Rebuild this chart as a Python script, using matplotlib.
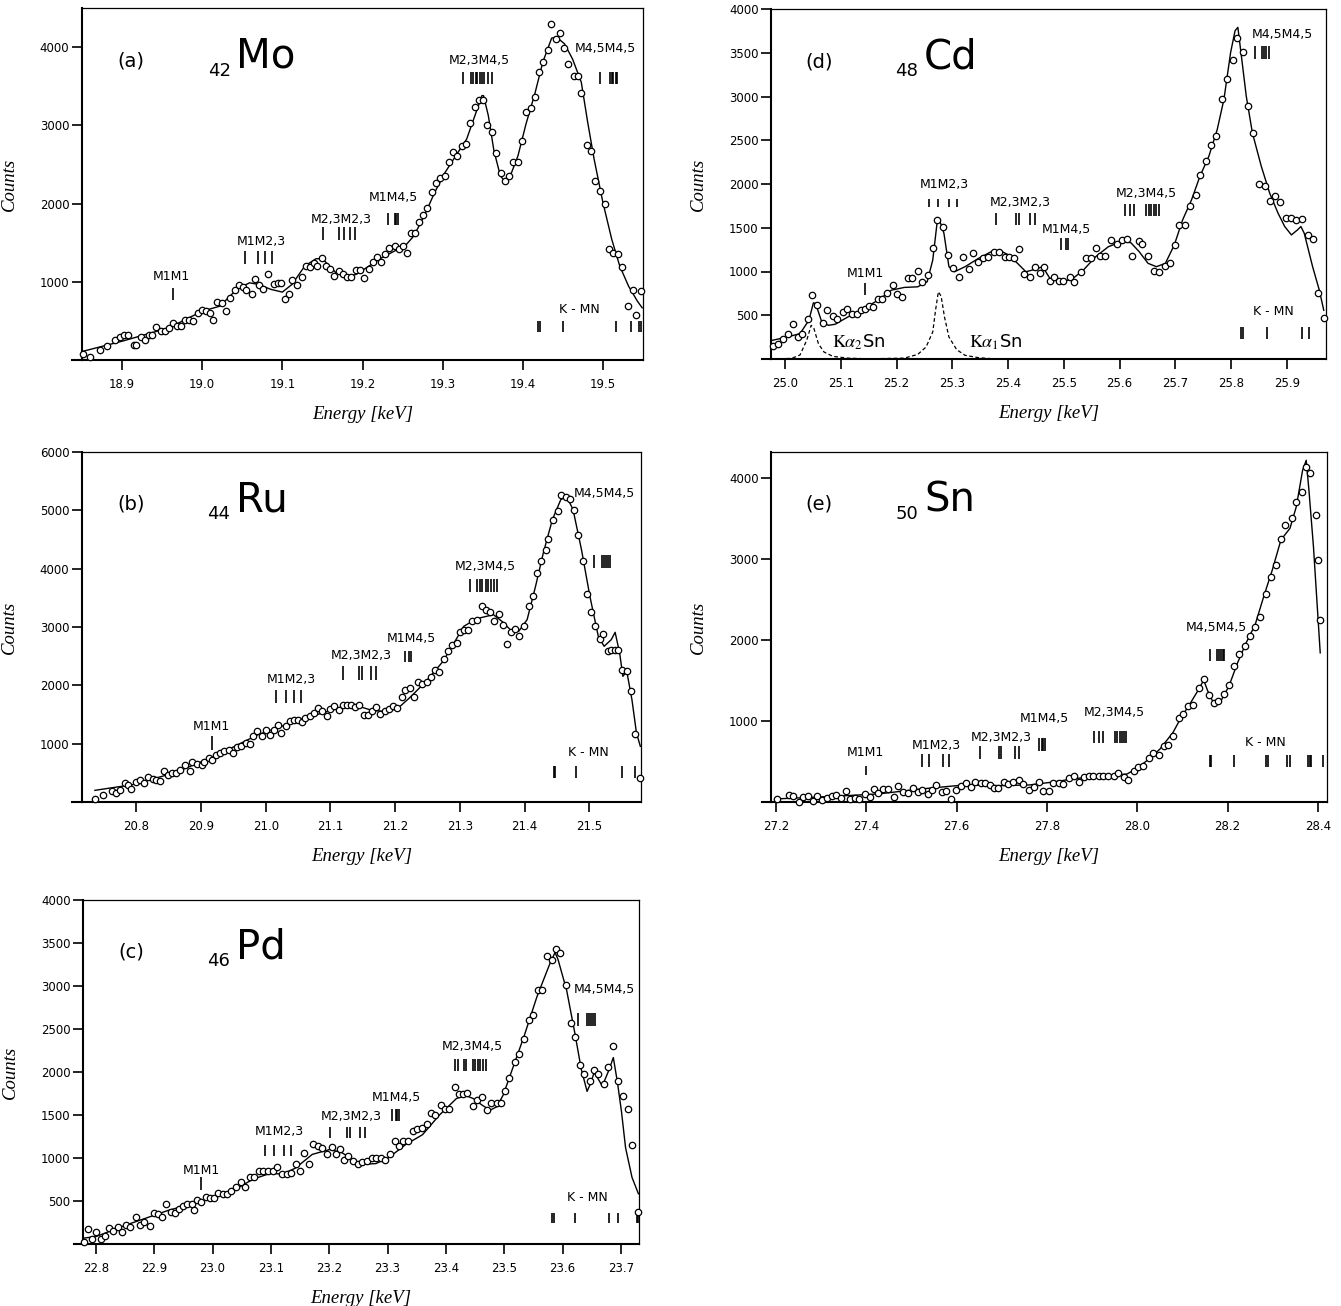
import matplotlib
matplotlib.use('Agg')
import matplotlib.pyplot as plt

plt.rcParams['mathtext.fontset'] = 'stix'
plt.rcParams['font.family'] = ['DejaVu Sans']

# ---------------- data ----------------
# (a) 42Mo
a_E = [18.851, 18.860, 18.872, 18.881, 18.891, 18.897, 18.902, 18.907, 18.915, 18.918,
       18.923, 18.928, 18.934, 18.937, 18.942, 18.949, 18.954, 18.958, 18.964, 18.969,
       18.974, 18.979, 18.984, 18.989, 18.995, 19.000, 19.005, 19.010, 19.014, 19.019,
       19.025, 19.030, 19.035, 19.041, 19.046, 19.051, 19.055, 19.062, 19.066, 19.071,
       19.076, 19.082, 19.089, 19.094, 19.098, 19.103, 19.108, 19.112, 19.118, 19.124,
       19.129, 19.134, 19.139, 19.143, 19.150, 19.155, 19.160, 19.165, 19.171, 19.176,
       19.181, 19.186, 19.192, 19.197, 19.202, 19.208, 19.213, 19.218, 19.223, 19.228,
       19.233, 19.240, 19.245, 19.250, 19.255, 19.260, 19.265, 19.270, 19.276, 19.281,
       19.287, 19.292, 19.297, 19.303, 19.308, 19.313, 19.318, 19.324, 19.329, 19.334,
       19.340, 19.345, 19.350, 19.355, 19.361, 19.366, 19.373, 19.378, 19.383, 19.388,
       19.394, 19.399, 19.404, 19.410, 19.415, 19.420, 19.425, 19.431, 19.435, 19.441,
       19.447, 19.452, 19.457, 19.464, 19.469, 19.473, 19.480, 19.485, 19.490, 19.496,
       19.503, 19.508, 19.512, 19.519, 19.524, 19.531, 19.537, 19.541, 19.547]
a_counts = [81, 34, 124, 184, 261, 295, 325, 325, 197, 197,
            291, 261, 325, 325, 423, 368, 368, 410, 474, 440,
            432, 509, 509, 496, 603, 637, 624, 603, 509, 739,
            731, 624, 795, 893, 953, 936, 889, 838, 1038, 953,
            910, 1094, 966, 979, 979, 782, 846, 1017, 953, 1064,
            1201, 1188, 1235, 1201, 1308, 1201, 1158, 1073, 1137, 1094,
            1060, 1060, 1145, 1150, 1051, 1167, 1252, 1320, 1252, 1350,
            1436, 1457, 1423, 1457, 1363, 1628, 1628, 1765, 1850, 1949,
            2150, 2261, 2333, 2355, 2534, 2654, 2611, 2739, 2761, 3030,
            3231, 3329, 3329, 3004, 2910, 2645, 2397, 2291, 2355, 2526,
            2534, 2803, 3167, 3218, 3359, 3688, 3816, 3957, 4299, 4107,
            4184, 3987, 3786, 3628, 3628, 3415, 2748, 2675, 2291, 2162,
            1991, 1423, 1363, 1350, 1192, 688, 893, 581, 880]
a_fitE = [18.851, 18.900, 18.958, 19.000, 19.022, 19.043, 19.059, 19.070, 19.086, 19.100,
          19.112, 19.128, 19.142, 19.150, 19.166, 19.179, 19.192, 19.208, 19.224, 19.240,
          19.253, 19.264, 19.277, 19.290, 19.303, 19.317, 19.330, 19.341, 19.349, 19.351,
          19.357, 19.364, 19.372, 19.378, 19.386, 19.394, 19.404, 19.415, 19.425, 19.436,
          19.442, 19.452, 19.462, 19.473, 19.481, 19.489, 19.500, 19.511, 19.521, 19.532,
          19.543, 19.549]
a_fit = [111, 240, 410, 624, 688, 902, 987, 966, 902, 868,
         966, 1201, 1295, 1295, 1124, 1060, 1094, 1201, 1308, 1393,
         1457, 1585, 1842, 2141, 2397, 2620, 2825, 3145, 3380, 3380,
         3124, 2675, 2355, 2278, 2397, 2611, 3017, 3402, 3808, 4115,
         4128, 4043, 3850, 3551, 3038, 2568, 2013, 1543, 1201, 944,
         752, 667]
a_marks = {
    'M1M1': [18.964],
    'M1M2,3': [19.054, 19.070, 19.078, 19.087],
    'M2,3M2,3': [19.151, 19.171, 19.177, 19.184, 19.191],
    'M1M4,5': [19.232, 19.240, 19.242, 19.244],
    'M2,3M4,5': [19.325, 19.335, 19.338, 19.341, 19.343, 19.346, 19.349, 19.351, 19.356, 19.361],
    'M4,5M4,5': [19.496, 19.509, 19.511, 19.512, 19.516, 19.518],
    'K - MN': [19.419, 19.422, 19.450, 19.516, 19.535, 19.545, 19.547],
}

# (b) 44Ru
b_E = [20.736, 20.749, 20.762, 20.769, 20.774, 20.782, 20.787, 20.792, 20.799, 20.805,
       20.812, 20.818, 20.825, 20.831, 20.836, 20.842, 20.849, 20.855, 20.862, 20.868,
       20.875, 20.883, 20.886, 20.894, 20.901, 20.905, 20.912, 20.917, 20.923, 20.930,
       20.936, 20.943, 20.949, 20.956, 20.962, 20.969, 20.975, 20.981, 20.987, 20.994,
       21.000, 21.006, 21.013, 21.019, 21.024, 21.031, 21.037, 21.044, 21.050, 21.056,
       21.061, 21.068, 21.074, 21.081, 21.087, 21.094, 21.100, 21.106, 21.113, 21.119,
       21.126, 21.132, 21.138, 21.144, 21.152, 21.158, 21.165, 21.171, 21.177, 21.184,
       21.191, 21.197, 21.203, 21.210, 21.216, 21.223, 21.229, 21.236, 21.242, 21.249,
       21.255, 21.262, 21.268, 21.275, 21.282, 21.288, 21.295, 21.301, 21.306, 21.313,
       21.319, 21.326, 21.334, 21.340, 21.347, 21.353, 21.360, 21.366, 21.373, 21.379,
       21.386, 21.392, 21.399, 21.407, 21.413, 21.420, 21.426, 21.433, 21.437, 21.444,
       21.451, 21.457, 21.464, 21.470, 21.477, 21.483, 21.490, 21.496, 21.503, 21.509,
       21.516, 21.522, 21.529, 21.534, 21.540, 21.545, 21.550, 21.558, 21.565, 21.571,
       21.579]
b_counts = [51, 126, 183, 154, 211, 326, 297, 223, 337, 371,
            326, 429, 394, 383, 354, 526, 469, 497, 491, 554,
            640, 537, 680, 657, 640, 680, 754, 714, 811, 840,
            880, 897, 840, 943, 954, 1011, 1000, 1126, 1211, 1126,
            1240, 1154, 1240, 1326, 1183, 1309, 1383, 1411, 1400, 1366,
            1440, 1469, 1526, 1611, 1554, 1480, 1594, 1651, 1571, 1669,
            1669, 1657, 1629, 1657, 1497, 1497, 1554, 1623, 1514, 1554,
            1594, 1640, 1611, 1800, 1914, 1954, 1800, 2051, 2029, 2051,
            2143, 2269, 2223, 2451, 2583, 2697, 2726, 2909, 2943, 2954,
            3097, 3126, 3354, 3297, 3251, 3097, 3229, 3040, 2714, 2909,
            2966, 2840, 3011, 3354, 3526, 3926, 4126, 4326, 4509, 4840,
            4983, 5269, 5229, 5200, 5000, 4583, 4126, 3571, 3251, 3011,
            2794, 2880, 2583, 2600, 2600, 2600, 2269, 2240, 1897, 1171,
            411]
b_fitE = [20.736, 20.794, 20.858, 20.923, 20.988, 21.053, 21.105, 21.124, 21.144, 21.164,
          21.183, 21.203, 21.222, 21.248, 21.274, 21.294, 21.306, 21.326, 21.352, 21.365,
          21.378, 21.391, 21.404, 21.417, 21.429, 21.443, 21.456, 21.465, 21.475, 21.488,
          21.501, 21.514, 21.523, 21.534, 21.540, 21.547, 21.552, 21.558, 21.566, 21.573,
          21.579]
b_fit = [200, 297, 497, 794, 1154, 1411, 1583, 1651, 1640, 1571,
         1554, 1594, 1783, 2069, 2411, 2783, 3011, 3143, 3211, 3097,
         2954, 2926, 3126, 3697, 4269, 4840, 5183, 5240, 5011, 4326,
         3526, 2840, 2669, 2783, 2909, 2554, 2154, 2240, 1754, 1183,
         954]
b_marks = {
    'M1M1': [20.917],
    'M1M2,3': [21.016, 21.031, 21.044, 21.055],
    'M2,3M2,3': [21.119, 21.144, 21.148, 21.162, 21.170],
    'M1M4,5': [21.216, 21.222, 21.225],
    'M2,3M4,5': [21.316, 21.326, 21.331, 21.335, 21.340, 21.344, 21.348, 21.353, 21.358],
    'M4,5M4,5': [21.508, 21.520, 21.523, 21.526, 21.529, 21.532],
    'K - MN': [21.445, 21.447, 21.480, 21.550, 21.571],
}

# (c) 46Pd
c_E = [22.780, 22.787, 22.794, 22.801, 22.809, 22.816, 22.823, 22.830, 22.838, 22.845,
       22.852, 22.859, 22.868, 22.875, 22.882, 22.892, 22.899, 22.906, 22.914, 22.921,
       22.928, 22.936, 22.943, 22.950, 22.957, 22.965, 22.968, 22.974, 22.981, 22.989,
       22.996, 23.003, 23.010, 23.018, 23.025, 23.032, 23.041, 23.048, 23.055, 23.064,
       23.071, 23.079, 23.086, 23.095, 23.103, 23.110, 23.119, 23.127, 23.135, 23.143,
       23.150, 23.157, 23.166, 23.173, 23.181, 23.188, 23.197, 23.204, 23.212, 23.219,
       23.226, 23.233, 23.240, 23.250, 23.257, 23.264, 23.273, 23.280, 23.288, 23.295,
       23.304, 23.313, 23.320, 23.327, 23.335, 23.344, 23.351, 23.359, 23.367, 23.375,
       23.382, 23.391, 23.398, 23.405, 23.415, 23.422, 23.429, 23.436, 23.446, 23.453,
       23.462, 23.470, 23.478, 23.487, 23.494, 23.502, 23.509, 23.518, 23.526, 23.534,
       23.542, 23.549, 23.558, 23.565, 23.574, 23.582, 23.589, 23.596, 23.606, 23.614,
       23.621, 23.630, 23.637, 23.647, 23.654, 23.661, 23.671, 23.678, 23.687, 23.695,
       23.703, 23.712, 23.719, 23.730]
c_counts = [19, 172, 57, 145, 57, 95, 191, 156, 195, 134,
            221, 202, 309, 221, 260, 210, 355, 347, 309, 469,
            374, 355, 412, 439, 462, 462, 393, 515, 489, 546,
            538, 538, 595, 584, 584, 615, 660, 718, 668, 775,
            775, 844, 844, 851, 851, 897, 813, 813, 821, 927,
            844, 1053, 935, 1164, 1137, 1118, 1050, 1126, 1050, 1107,
            973, 1023, 966, 927, 958, 966, 1004, 996, 1004, 973,
            1050, 1195, 1137, 1195, 1195, 1317, 1340, 1347, 1393, 1519,
            1500, 1622, 1569, 1569, 1824, 1748, 1748, 1760, 1607, 1672,
            1710, 1557, 1645, 1634, 1634, 1775, 1927, 2111, 2206, 2378,
            2599, 2664, 2958, 2958, 3351, 3302, 3427, 3378, 3015, 2569,
            2408, 2080, 1977, 1901, 2027, 1977, 1863, 2054, 2302, 1901,
            1721, 1569, 1156, 374]
c_fitE = [22.780, 22.801, 22.852, 22.925, 22.983, 23.026, 23.070, 23.099, 23.120, 23.142,
          23.171, 23.201, 23.222, 23.244, 23.259, 23.280, 23.302, 23.331, 23.360, 23.389,
          23.418, 23.433, 23.447, 23.462, 23.476, 23.487, 23.498, 23.512, 23.534, 23.556,
          23.578, 23.587, 23.592, 23.607, 23.621, 23.632, 23.642, 23.649, 23.654, 23.661,
          23.668, 23.679, 23.687, 23.694, 23.701, 23.708, 23.719, 23.730]
c_fit = [69, 88, 221, 393, 500, 584, 756, 821, 813, 882,
         1042, 1099, 1061, 966, 927, 935, 1004, 1156, 1271, 1500,
         1691, 1729, 1691, 1615, 1557, 1595, 1729, 1996, 2416, 2874,
         3256, 3389, 3313, 2950, 2454, 2034, 1775, 1882, 1996, 1920,
         1836, 2015, 2168, 1882, 1538, 1118, 775, 584]
c_marks = {
    'M1M1': [22.981],
    'M1M2,3': [23.090, 23.105, 23.122, 23.134],
    'M2,3M2,3': [23.201, 23.231, 23.235, 23.253, 23.262],
    'M1M4,5': [23.308, 23.315, 23.317, 23.319],
    'M2,3M4,5': [23.415, 23.420, 23.431, 23.434, 23.446, 23.450, 23.455, 23.459, 23.464, 23.468],
    'M4,5M4,5': [23.627, 23.642, 23.645, 23.649, 23.652, 23.656],
    'K - MN': [23.582, 23.585, 23.621, 23.680, 23.695, 23.727, 23.730],
}

# (d) 48Cd
d_E = [24.979, 24.987, 24.996, 25.006, 25.014, 25.023, 25.031, 25.041, 25.049, 25.058,
       25.068, 25.076, 25.086, 25.094, 25.104, 25.111, 25.121, 25.129, 25.136, 25.144,
       25.150, 25.158, 25.166, 25.174, 25.183, 25.193, 25.201, 25.210, 25.221, 25.228,
       25.238, 25.246, 25.256, 25.265, 25.273, 25.283, 25.292, 25.302, 25.312, 25.320,
       25.330, 25.337, 25.347, 25.355, 25.364, 25.374, 25.384, 25.394, 25.401, 25.411,
       25.419, 25.429, 25.439, 25.448, 25.457, 25.465, 25.475, 25.483, 25.491, 25.499,
       25.511, 25.518, 25.530, 25.540, 25.549, 25.557, 25.565, 25.574, 25.585, 25.595,
       25.604, 25.613, 25.623, 25.634, 25.641, 25.651, 25.661, 25.671, 25.681, 25.690,
       25.700, 25.707, 25.717, 25.727, 25.737, 25.744, 25.754, 25.764, 25.772, 25.783,
       25.793, 25.803, 25.811, 25.821, 25.830, 25.840, 25.850, 25.860, 25.869, 25.878,
       25.888, 25.899, 25.908, 25.917, 25.927, 25.937, 25.946, 25.956, 25.966]
d_counts = [144, 175, 232, 290, 404, 251, 290, 462, 730, 615,
            412, 557, 489, 462, 538, 577, 519, 519, 557, 577,
            603, 596, 691, 691, 749, 844, 741, 710, 921, 921,
            1009, 883, 959, 1265, 1583, 1514, 1189, 1043, 940, 1162,
            1024, 1215, 1112, 1150, 1162, 1227, 1227, 1169, 1162, 1150,
            1254, 971, 932, 1047, 978, 1047, 890, 932, 894, 894,
            932, 875, 997, 1150, 1150, 1265, 1177, 1177, 1361, 1315,
            1361, 1368, 1177, 1353, 1311, 1177, 1009, 997, 1062, 1101,
            1303, 1533, 1533, 1743, 1877, 2107, 2260, 2451, 2554, 2975,
            3197, 3419, 3664, 3503, 2891, 2585, 2003, 1980, 1800, 1858,
            1789, 1609, 1609, 1590, 1598, 1418, 1368, 749, 473]
d_fitE = [24.977, 25.004, 25.027, 25.043, 25.051, 25.055, 25.066, 25.078, 25.090, 25.113,
          25.136, 25.167, 25.191, 25.214, 25.238, 25.255, 25.265, 25.273, 25.277, 25.285,
          25.294, 25.304, 25.323, 25.347, 25.370, 25.386, 25.401, 25.417, 25.432, 25.448,
          25.462, 25.475, 25.495, 25.514, 25.534, 25.557, 25.580, 25.604, 25.620, 25.635,
          25.651, 25.666, 25.682, 25.698, 25.713, 25.729, 25.744, 25.760, 25.775, 25.787,
          25.799, 25.807, 25.812, 25.819, 25.827, 25.838, 25.854, 25.869, 25.884, 25.896,
          25.908, 25.919, 25.925, 25.931, 25.946, 25.958, 25.966]
d_fit = [213, 251, 290, 443, 642, 634, 423, 385, 397, 481,
         557, 672, 787, 818, 825, 883, 1131, 1571, 1590, 1438,
         1055, 997, 1055, 1150, 1227, 1238, 1189, 1093, 997, 1024,
         1055, 921, 883, 910, 1009, 1169, 1284, 1341, 1330, 1227,
         1093, 1055, 1093, 1303, 1590, 1820, 2088, 2317, 2623, 2967,
         3503, 3752, 3790, 3426, 3006, 2585, 2202, 1896, 1667, 1514,
         1418, 1476, 1514, 1437, 1055, 787, 557]
# Sn K-alpha contamination lines (dashed)
d_ka2E = [24.980, 25.012, 25.027, 25.039, 25.047, 25.052, 25.060, 25.070, 25.086, 25.113, 25.150]
d_ka2 = [0, 7, 46, 213, 385, 347, 175, 80, 30, 10, 2]
d_ka1E = [25.150, 25.214, 25.238, 25.253, 25.265, 25.270, 25.275, 25.280, 25.286, 25.294,
          25.308, 25.323, 25.347, 25.370, 25.400]
d_ka1 = [2, 10, 52, 137, 309, 557, 768, 718, 481, 251,
         106, 42, 15, 4, 0]
d_marks = {
    'M1M1': [25.143],
    'M1M2,3': [25.259, 25.275, 25.294, 25.308],
    'M2,3M2,3': [25.378, 25.415, 25.419, 25.440, 25.448],
    'M1M4,5': [25.495, 25.503, 25.507],
    'M2,3M4,5': [25.610, 25.618, 25.626, 25.647, 25.652, 25.656, 25.661, 25.666, 25.670],
    'M4,5M4,5': [25.842, 25.855, 25.859, 25.863, 25.867],
    'K - MN': [25.818, 25.821, 25.864, 25.927, 25.939],
}

# (e) 50Sn
e_E = [27.203, 27.229, 27.238, 27.251, 27.260, 27.270, 27.282, 27.291, 27.303, 27.312,
       27.323, 27.334, 27.344, 27.354, 27.365, 27.375, 27.384, 27.397, 27.408, 27.418,
       27.427, 27.437, 27.447, 27.461, 27.471, 27.481, 27.493, 27.504, 27.514, 27.524,
       27.536, 27.545, 27.555, 27.567, 27.576, 27.587, 27.598, 27.610, 27.620, 27.632,
       27.641, 27.653, 27.662, 27.673, 27.683, 27.692, 27.704, 27.714, 27.725, 27.737,
       27.747, 27.760, 27.771, 27.783, 27.792, 27.805, 27.814, 27.826, 27.836, 27.848,
       27.859, 27.872, 27.881, 27.893, 27.903, 27.915, 27.925, 27.936, 27.949, 27.958,
       27.971, 27.980, 27.992, 28.001, 28.013, 28.025, 28.035, 28.047, 28.059, 28.069,
       28.080, 28.092, 28.102, 28.112, 28.124, 28.136, 28.147, 28.158, 28.169, 28.179,
       28.192, 28.204, 28.215, 28.226, 28.239, 28.250, 28.261, 28.272, 28.284, 28.296,
       28.308, 28.319, 28.328, 28.342, 28.352, 28.364, 28.373, 28.383, 28.395, 28.400,
       28.405]
e_counts = [38, 87, 79, 5, 59, 79, 18, 71, 30, 46,
            79, 87, 46, 140, 38, 46, 38, 99, 59, 161,
            112, 161, 161, 67, 194, 128, 112, 169, 128, 153,
            99, 153, 210, 120, 140, 38, 153, 202, 235, 181,
            243, 235, 235, 210, 169, 169, 251, 222, 243, 276,
            222, 153, 181, 251, 140, 140, 235, 235, 222, 292,
            317, 243, 304, 325, 325, 317, 317, 325, 325, 357,
            304, 276, 386, 427, 439, 537, 603, 578, 693, 701,
            816, 1041, 1082, 1184, 1192, 1409, 1520, 1315, 1225, 1246,
            1327, 1438, 1675, 1819, 1921, 2044, 2158, 2277, 2568, 2772,
            2924, 3239, 3415, 3497, 3702, 3824, 4131, 4058, 3538, 2985,
            2248]
e_fitE = [27.197, 27.234, 27.330, 27.426, 27.522, 27.617, 27.694, 27.761, 27.809, 27.857,
          27.905, 27.953, 27.977, 27.997, 28.021, 28.050, 28.079, 28.097, 28.116, 28.136,
          28.147, 28.156, 28.169, 28.183, 28.203, 28.222, 28.241, 28.261, 28.280, 28.299,
          28.318, 28.338, 28.352, 28.366, 28.374, 28.380, 28.390, 28.405]
e_fit = [38, 46, 71, 99, 161, 210, 202, 210, 243, 284,
         317, 333, 345, 406, 509, 652, 857, 1041, 1205, 1389,
         1503, 1368, 1217, 1225, 1430, 1716, 1962, 2187, 2535, 2862,
         3231, 3374, 3640, 4090, 4213, 3845, 3149, 1839]
e_marks = {
    'M1M1': [27.400],
    'M1M2,3': [27.524, 27.539, 27.569, 27.582],
    'M2,3M2,3': [27.651, 27.694, 27.699, 27.730, 27.739],
    'M1M4,5': [27.783, 27.788, 27.792, 27.796],
    'M2,3M4,5': [27.905, 27.915, 27.925, 27.951, 27.956, 27.961, 27.966, 27.971, 27.975],
    'M4,5M4,5': [28.160, 28.176, 28.181, 28.186, 28.190, 28.193],
    'K - MN': [28.162, 28.164, 28.214, 28.284, 28.289, 28.332, 28.337, 28.378, 28.382, 28.385, 28.411],
}

# ---------------- layout ----------------
# label position (x, y) and tick-bar y-range for each transition group
a_pos = {'M1M1': (18.961, 1073, 773, 923), 'M1M2,3': (19.074, 1521, 1222, 1393),
         'M2,3M2,3': (19.173, 1800, 1530, 1700), 'M1M4,5': (19.238, 2077, 1722, 1885),
         'M2,3M4,5': (19.346, 3829, 3530, 3688), 'M4,5M4,5': (19.503, 3979, 3530, 3688),
         'K - MN': (19.471, 645, 355, 496)}
b_pos = {'M1M1': (20.916, 1297, 897, 1126), 'M1M2,3': (21.040, 2097, 1697, 1914),
         'M2,3M2,3': (21.147, 2509, 2097, 2326), 'M1M4,5': (21.225, 2811, 2394, 2583),
         'M2,3M4,5': (21.339, 4040, 3594, 3823), 'M4,5M4,5': (21.524, 5297, 4011, 4240),
         'K - MN': (21.498, 840, 411, 611)}
c_pos = {'M1M1': (22.981, 859, 630, 775), 'M1M2,3': (23.115, 1309, 1023, 1156),
         'M2,3M2,3': (23.237, 1481, 1233, 1366), 'M1M4,5': (23.315, 1698, 1431, 1569),
         'M2,3M4,5': (23.446, 2294, 2015, 2156), 'M4,5M4,5': (23.671, 2958, 2538, 2683),
         'K - MN': (23.643, 546, 240, 355)}
d_pos = {'M1M1': (25.144, 978, 730, 871), 'M1M2,3': (25.286, 1992, 1736, 1831),
         'M2,3M2,3': (25.421, 1789, 1533, 1667), 'M1M4,5': (25.504, 1475, 1246, 1380),
         'M2,3M4,5': (25.647, 1896, 1636, 1774), 'M4,5M4,5': (25.891, 3713, 3434, 3580),
         'K - MN': (25.875, 538, 232, 366)}
e_pos = {'M1M1': (27.399, 611, 333, 447), 'M1M2,3': (27.555, 701, 427, 591),
         'M2,3M2,3': (27.699, 795, 529, 693), 'M1M4,5': (27.795, 1029, 632, 795),
         'M2,3M4,5': (27.949, 1102, 726, 877), 'M4,5M4,5': (28.174, 2146, 1737, 1888),
         'K - MN': (28.284, 734, 427, 578)}

W, H = 1341, 1306


def rect(l, r, t, b):
    return [l / W, 1 - b / H, (r - l) / W, (b - t) / H]


fig = plt.figure(figsize=(13.41, 13.06), dpi=100)
fig.patch.set_facecolor('white')


def draw(box, E, cnt, fE, fit, marks, pos, xlim, ylim, xt, yt, tag, z, sym):
    ax = fig.add_axes(rect(*box))
    ax.plot(fE, fit, color='k', lw=1.0, zorder=3)
    ax.plot(E, cnt, 'o', mfc='white', mec='k', ms=4.6, mew=0.9, zorder=4, clip_on=False)
    for name, xs in marks.items():
        tx, ty, lo, hi = pos[name]
        ax.vlines(xs, lo, hi, color='k', lw=1.2)
        ax.text(tx, ty, name, ha='center', va='center', fontsize=9)
    ax.set_xlim(*xlim)
    ax.set_ylim(*ylim)
    ax.set_xticks(xt)
    ax.set_xticklabels(['%.1f' % v for v in xt])
    ax.set_yticks(yt)
    ax.tick_params(direction='out', length=7, width=1.2, labelsize=8.5)
    ax.tick_params(axis='x', pad=6)
    ax.tick_params(axis='y', pad=2)
    for s in ['left', 'bottom']:
        ax.spines[s].set_linewidth(1.5)
    for s in ['top', 'right']:
        ax.spines[s].set_linewidth(0.9)
    ax.plot([-0.017, 0], [0, 0], transform=ax.transAxes, color='k', lw=1.5, clip_on=False)
    ax.set_ylabel('Counts', family='Liberation Serif', style='italic', fontsize=13.5)
    ax.set_xlabel('Energy [keV]', family='Liberation Serif', style='italic', fontsize=13.5)
    ax.yaxis.set_label_coords(-64 / (box[1] - box[0]), 0.5)
    ax.xaxis.set_label_coords(0.5, -46 / (box[3] - box[2]))
    ax.text(0.087, 0.85, tag, transform=ax.transAxes, ha='center', va='center', fontsize=14)
    ax.text(0.265, 0.808, z, transform=ax.transAxes, ha='right', va='baseline', fontsize=13)
    ax.text(0.275, 0.83, sym, transform=ax.transAxes, ha='left', va='baseline', fontsize=29)
    return ax


draw((82, 643, 8, 360), a_E, a_counts, a_fitE, a_fit, a_marks, a_pos,
     (18.85, 19.55), (0, 4500), [18.9, 19.0, 19.1, 19.2, 19.3, 19.4, 19.5],
     [1000, 2000, 3000, 4000], '(a)', '42', 'Mo')
draw((82, 641, 452, 802), b_E, b_counts, b_fitE, b_fit, b_marks, b_pos,
     (20.716, 21.58), (0, 6000), [20.8, 20.9, 21.0, 21.1, 21.2, 21.3, 21.4, 21.5],
     [1000, 2000, 3000, 4000, 5000, 6000], '(b)', '44', 'Ru')
draw((83, 639, 900, 1244), c_E, c_counts, c_fitE, c_fit, c_marks, c_pos,
     (22.778, 23.731), (0, 4000), [22.8, 22.9, 23.0, 23.1, 23.2, 23.3, 23.4, 23.5, 23.6, 23.7],
     [500, 1000, 1500, 2000, 2500, 3000, 3500, 4000], '(c)', '46', 'Pd')
axd = draw((771, 1326, 9, 359), d_E, d_counts, d_fitE, d_fit, d_marks, d_pos,
           (24.975, 25.97), (0, 4000), [25.0, 25.1, 25.2, 25.3, 25.4, 25.5, 25.6, 25.7, 25.8, 25.9],
           [500, 1000, 1500, 2000, 2500, 3000, 3500, 4000], '(d)', '48', 'Cd')
axd.plot(d_ka2E, d_ka2, color='k', lw=0.9, ls=(0, (3, 2)), zorder=2)
axd.plot(d_ka1E, d_ka1, color='k', lw=0.9, ls=(0, (3, 2)), zorder=2)
axd.text(25.084, 194, r'$\mathrm{K}\alpha_{2}$Sn', ha='left', va='center', fontsize=13)
axd.text(25.330, 194, r'$\mathrm{K}\alpha_{1}$Sn', ha='left', va='center', fontsize=13)
draw((771, 1327, 452, 802), e_E, e_counts, e_fitE, e_fit, e_marks, e_pos,
     (27.189, 28.42), (0, 4315), [27.2, 27.4, 27.6, 27.8, 28.0, 28.2, 28.4],
     [1000, 2000, 3000, 4000], '(e)', '50', 'Sn')

fig.savefig('out.png', dpi=100)
